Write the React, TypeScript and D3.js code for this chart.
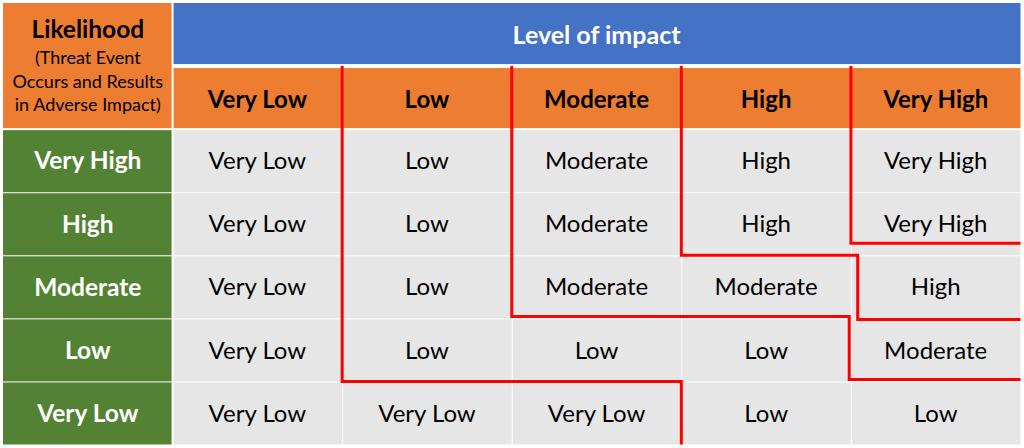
import React from "react";
import * as d3 from "d3";

const impactLevels = ["Very Low", "Low", "Moderate", "High", "Very High"];
const likelihoodLevels = ["Very High", "High", "Moderate", "Low", "Very Low"];
const riskRows = [
  ["Very Low", "Low", "Moderate", "High", "Very High"],
  ["Very Low", "Low", "Moderate", "High", "Very High"],
  ["Very Low", "Low", "Moderate", "Moderate", "High"],
  ["Very Low", "Low", "Low", "Low", "Moderate"],
  ["Very Low", "Very Low", "Very Low", "Low", "Low"],
];
const headerTitle = "Likelihood";
const headerSub = ["(Threat Event", "Occurs and Results", "in Adverse Impact)"];
const impactTitle = "Level of impact";
// risk boundary step lines in grid units [column boundary, row boundary]
const boundaryLines: [number, number][][] = [
  [[2, 1], [2, 6], [4, 6], [4, 7]],
  [[3, 1], [3, 4.97], [4.99, 4.97], [4.99, 5.97], [6, 5.97]],
  [[4, 1], [4, 4.0], [5.04, 4.0], [5.04, 5.02], [6, 5.02]],
  [[5, 1], [5, 3.81], [6, 3.81]],
];

const W = 1024;
const H = 448;
const ORANGE = "#ED7D31";
const BLUE = "#4472C4";
const GREEN = "#548235";
const GRAY = "#E7E6E6";
const FONT = "Lato, 'Open Sans', sans-serif";

export default function App() {
  const x = d3.scaleLinear().domain([0, 6]).range([3, 1020.5]);
  const y = d3.scaleLinear().domain([0, 7]).range([3, 444.5]);
  const line = d3
    .line<[number, number]>()
    .x((d) => x(d[0]))
    .y((d) => y(d[1]));
  const ins = 1;

  const cells: React.ReactNode[] = [];
  cells.push(
    <rect key="tl" x={x(0)} y={y(0)} width={x(1) - x(0) - ins} height={y(2) - y(0) - ins} fill={ORANGE} />
  );
  cells.push(
    <rect key="blue" x={x(1) + ins} y={y(0)} width={x(6) - x(1) - ins} height={y(1) - y(0) - 2} fill={BLUE} />
  );
  impactLevels.forEach((lv, i) => {
    cells.push(
      <rect key={"ih" + i} x={x(i + 1) + ins} y={y(1) + 2} width={x(i + 2) - x(i + 1) - ins} height={y(2) - y(1) - 2 - ins} fill={ORANGE} />
    );
  });
  likelihoodLevels.forEach((lv, r) => {
    cells.push(
      <rect key={"lh" + r} x={x(0)} y={y(r + 2) + ins} width={x(1) - x(0) - ins} height={y(r + 3) - y(r + 2) - ins} fill={GREEN} />
    );
    riskRows[r].forEach((v, c) => {
      cells.push(
        <rect key={"c" + r + "-" + c} x={x(c + 1) + ins} y={y(r + 2) + ins} width={x(c + 2) - x(c + 1) - ins} height={y(r + 3) - y(r + 2) - ins} fill={GRAY} />
      );
    });
  });

  const cx = (c: number) => (x(c) + x(c + 1)) / 2;
  const cy = (r: number) => (y(r) + y(r + 1)) / 2;

  return (
    <svg width={W} height={H} style={{ position: "fixed", left: 0, top: 0 }} fontFamily={FONT}>
      <rect width={W} height={H} fill="#fff" />
      {cells}
      <text x={cx(0)} y={38} textAnchor="middle" fontWeight="bold" fontSize={24.5} fill="#000">
        {headerTitle}
      </text>
      {headerSub.map((s, i) => (
        <text key={s} x={cx(0)} y={64 + i * 23.5} textAnchor="middle" fontSize={18} fill="#000">
          {s}
        </text>
      ))}
      <text x={(x(1) + x(6)) / 2} y={cy(0)} dy="0.36em" textAnchor="middle" fontWeight="bold" fontSize={25} fill="#fff">
        {impactTitle}
      </text>
      {impactLevels.map((lv, i) => (
        <text key={"iht" + i} x={cx(i + 1)} y={cy(1) + 2} dy="0.36em" textAnchor="middle" fontWeight="bold" fontSize={24} fill="#000">
          {lv}
        </text>
      ))}
      {likelihoodLevels.map((lv, r) => (
        <text key={"lht" + r} x={cx(0)} y={cy(r + 2)} dy="0.36em" textAnchor="middle" fontWeight="bold" fontSize={24.5} fill="#fff">
          {lv}
        </text>
      ))}
      {riskRows.map((row, r) =>
        row.map((v, c) => (
          <text key={"t" + r + "-" + c} x={cx(c + 1)} y={cy(r + 2)} dy="0.36em" textAnchor="middle" fontSize={24} fill="#000">
            {v}
          </text>
        ))
      )}
      {boundaryLines.map((pts, i) => (
        <path key={"bl" + i} d={line(pts) || ""} fill="none" stroke="#FF0000" strokeWidth={3} />
      ))}
    </svg>
  );
}
